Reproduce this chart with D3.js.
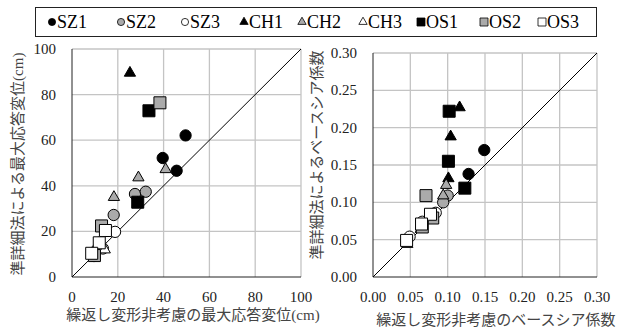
<!DOCTYPE html>
<html>
<head>
<meta charset="utf-8">
<script src="https://cdn.jsdelivr.net/npm/d3@7"></script>
<style>
  body { margin: 0; background: #fff; }
</style>
</head>
<body>
<svg id="chart" width="628" height="331"></svg>
<script>
// series, drawn in this order (later ones on top)
const seriesNames = ['SZ1', 'SZ2', 'SZ3', 'CH1', 'CH2', 'CH3', 'OS1', 'OS2', 'OS3'];
const seriesShapes = ['circle', 'circle', 'circle', 'triangle', 'triangle', 'triangle', 'square', 'square', 'square'];
const seriesFills = ['#000', '#aaa', '#fff', '#000', '#aaa', '#fff', '#000', '#aaa', '#fff'];

// left panel: max displacement (cm)
const SZ1_disp = [[49.6, 62.1], [39.6, 52.2], [45.7, 46.6]];
const SZ2_disp = [[27.5, 36.4], [32.2, 37.4], [18.2, 27.2]];
const SZ3_disp = [[18.8, 19.8], [9.6, 9.2], [13.5, 12.5]];
const CH1_disp = [[25.3, 89.5], [28.7, 32.5], [33.6, 72.5]];
const CH2_disp = [[40.9, 47.2], [29.0, 43.6], [18.3, 35.0]];
const CH3_disp = [[14.3, 12.0], [11.5, 14.8], [8.8, 10.4]];
const OS1_disp = [[33.6, 72.9], [28.7, 32.8]];
const OS2_disp = [[38.4, 76.4], [12.9, 22.4], [9.8, 9.4]];
const OS3_disp = [[14.6, 20.4], [11.9, 15.0], [8.6, 10.4]];

// right panel: base shear coefficient
const SZ1_cb = [[0.149, 0.170], [0.128, 0.138]];
const SZ2_cb = [[0.100, 0.109], [0.094, 0.100]];
const SZ3_cb = [[0.049, 0.054], [0.066, 0.074], [0.084, 0.086]];
const CH1_cb = [[0.116, 0.227], [0.104, 0.188], [0.101, 0.132]];
const CH2_cb = [[0.098, 0.123], [0.094, 0.109]];
const CH3_cb = [[0.046, 0.044], [0.064, 0.064], [0.080, 0.079]];
const OS1_cb = [[0.102, 0.222], [0.101, 0.155], [0.123, 0.119]];
const OS2_cb = [[0.071, 0.109], [0.080, 0.079], [0.066, 0.067]];
const OS3_cb = [[0.077, 0.084], [0.065, 0.071], [0.045, 0.049]];

const dispData = [SZ1_disp, SZ2_disp, SZ3_disp, CH1_disp, CH2_disp, CH3_disp, OS1_disp, OS2_disp, OS3_disp];
const cbData = [SZ1_cb, SZ2_cb, SZ3_cb, CH1_cb, CH2_cb, CH3_cb, OS1_cb, OS2_cb, OS3_cb];

const dispTicks = [0, 20, 40, 60, 80, 100];
const cbTicks = [0, 0.05, 0.10, 0.15, 0.20, 0.25, 0.30];

const FONT = "'Liberation Serif', 'Times New Roman', 'Noto Sans CJK JP', serif";
const svg = d3.select('#chart')
  .style('font-family', FONT);

const symbolType = { circle: d3.symbolCircle, triangle: d3.symbolTriangle, square: d3.symbolSquare };
const markerSize = { circle: 100, triangle: 55, square: 144 };
const legendSize = { circle: 40, triangle: 30, square: 64 };

function drawPanel({ data, ticks, fmt, xRange, yRange, yLabel, xLabel, yLabelPos, xLabelPos, tickRight }) {
  const dom = [ticks[0], ticks[ticks.length - 1]];
  const x = d3.scaleLinear().domain(dom).range(xRange);
  const y = d3.scaleLinear().domain(dom).range(yRange);
  const g = svg.append('g');

  // gridlines
  g.append('g')
    .selectAll('line')
    .data(ticks.slice(1))
    .join('line')
    .attr('x1', d => x(d)).attr('x2', d => x(d))
    .attr('y1', yRange[0]).attr('y2', yRange[1])
    .attr('stroke', '#c4c4c4').attr('stroke-width', 1.3);
  g.append('g')
    .selectAll('line')
    .data(ticks.slice(1))
    .join('line')
    .attr('y1', d => y(d)).attr('y2', d => y(d))
    .attr('x1', xRange[0]).attr('x2', xRange[1])
    .attr('stroke', '#c4c4c4').attr('stroke-width', 1.3);

  // axes
  g.append('line')
    .attr('x1', xRange[0]).attr('x2', xRange[0]).attr('y1', yRange[0]).attr('y2', yRange[1])
    .attr('stroke', '#222').attr('stroke-width', 1);
  g.append('line')
    .attr('x1', xRange[0]).attr('x2', xRange[1]).attr('y1', yRange[0]).attr('y2', yRange[0])
    .attr('stroke', '#222').attr('stroke-width', 1);

  // 1:1 line
  g.append('line')
    .attr('x1', x(dom[0])).attr('y1', y(dom[0]))
    .attr('x2', x(dom[1])).attr('y2', y(dom[1]))
    .attr('stroke', '#000').attr('stroke-width', 1);

  // tick labels
  g.append('g')
    .selectAll('text')
    .data(ticks)
    .join('text')
    .attr('x', tickRight)
    .attr('y', d => y(d) + 5)
    .attr('text-anchor', 'end')
    .attr('font-family', FONT)
    .attr('font-size', 15)
    .attr('fill', '#222')
    .text(fmt);
  g.append('g')
    .selectAll('text')
    .data(ticks)
    .join('text')
    .attr('x', d => x(d))
    .attr('y', yRange[0] + 25)
    .attr('text-anchor', 'middle')
    .attr('font-family', FONT)
    .attr('font-size', 15)
    .attr('fill', '#222')
    .text(fmt);

  // axis titles
  g.append('text')
    .attr('transform', `translate(${yLabelPos[0]},${yLabelPos[1]}) rotate(-90)`)
    .attr('text-anchor', 'middle')
    .attr('font-family', FONT)
    .attr('font-size', 15)
    .attr('fill', '#444')
    .text(yLabel);
  g.append('text')
    .attr('x', xLabelPos[0]).attr('y', xLabelPos[1])
    .attr('text-anchor', 'middle')
    .attr('font-family', FONT)
    .attr('font-size', 15)
    .attr('fill', '#444')
    .text(xLabel);

  // markers
  data.forEach((pts, i) => {
    const shape = seriesShapes[i];
    g.append('g')
      .selectAll('path')
      .data(pts)
      .join('path')
      .attr('transform', d => `translate(${x(d[0])},${y(d[1])})`)
      .attr('d', d3.symbol().type(symbolType[shape]).size(markerSize[shape]))
      .attr('fill', seriesFills[i])
      .attr('stroke', '#000')
      .attr('stroke-width', 1);
  });
}

drawPanel({
  data: dispData, ticks: dispTicks, fmt: d => d3.format('d')(d),
  xRange: [72, 301], yRange: [277, 49], tickRight: 56,
  yLabel: '準詳細法による最大応答変位(cm)', yLabelPos: [23, 164],
  xLabel: '繰返し変形非考慮の最大応答変位(cm)', xLabelPos: [193, 320]
});

drawPanel({
  data: cbData, ticks: cbTicks, fmt: d => d3.format('.2f')(d),
  xRange: [373, 597], yRange: [277, 53], tickRight: 357,
  yLabel: '準詳細法によるベースシア係数', yLabelPos: [322, 155],
  xLabel: '繰返し変形非考慮のベースシア係数', xLabelPos: [496, 325]
});

// legend
const legendX = [52, 121, 185, 244, 302, 363, 421, 484, 542];
const legend = svg.append('g');
legend.append('rect')
  .attr('x', 35.5).attr('y', 7.5).attr('width', 561).attr('height', 29)
  .attr('fill', '#fff').attr('stroke', '#222').attr('stroke-width', 1);
const items = legend.selectAll('g.item')
  .data(seriesNames)
  .join('g')
  .attr('transform', (d, i) => `translate(${legendX[i]},22)`);
items.append('path')
  .attr('d', (d, i) => d3.symbol().type(symbolType[seriesShapes[i]]).size(legendSize[seriesShapes[i]])())
  .attr('fill', (d, i) => seriesFills[i])
  .attr('stroke', '#000').attr('stroke-width', 0.8);
items.append('text')
  .attr('x', 5).attr('y', 6)
  .attr('font-family', FONT)
  .attr('font-size', 18)
  .attr('fill', '#000')
  .text(d => d);
</script>
</body>
</html>
